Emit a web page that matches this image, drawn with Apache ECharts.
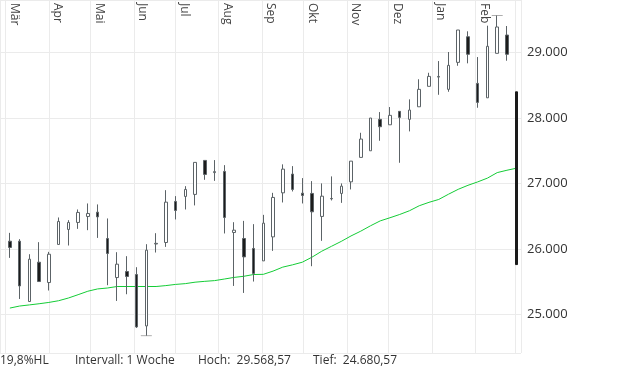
<!DOCTYPE html>
<html>
<head>
<meta charset="utf-8">
<script src="https://cdn.jsdelivr.net/npm/echarts@6/dist/echarts.min.js"></script>
<style>
html,body{margin:0;padding:0;background:#fff;}
#chart{width:620px;height:372px;}
</style>
</head>
<body>
<div id="chart"></div>
<script>
// Weekly candles (plotted at the Monday after each week)
const weekDates = [
'2019-03-04','2019-03-11','2019-03-18','2019-03-25','2019-04-01','2019-04-08','2019-04-15','2019-04-22','2019-04-29',
'2019-05-06','2019-05-13','2019-05-20','2019-05-27','2019-06-03','2019-06-10','2019-06-17','2019-06-24','2019-07-01',
'2019-07-08','2019-07-15','2019-07-22','2019-07-29','2019-08-05','2019-08-12','2019-08-19','2019-08-26','2019-09-02',
'2019-09-09','2019-09-16','2019-09-23','2019-09-30','2019-10-07','2019-10-14','2019-10-21','2019-10-28','2019-11-04',
'2019-11-11','2019-11-18','2019-11-25','2019-12-02','2019-12-09','2019-12-16','2019-12-23','2019-12-30','2020-01-06',
'2020-01-13','2020-01-20','2020-01-27','2020-02-03','2020-02-10','2020-02-17','2020-02-24','2020-03-02'
];
const openV = [
26123,26123,25202,25802,25492,26073,26302,26409,26500,
26566,26164,25568,25660,25614,24829,26080,26103,26730,
26806,26837,27356,27170,27188,26256,26164,26012,25822,
26189,26861,27147,26856,26852,26501,26775,26852,27029,
27402,27503,27983,27900,28105,27983,28175,28487,28628,
28441,28853,29244,28532,28312,28991,29270,28403
];
const closeV = [
26027,25440,25848,25507,25924,26424,26409,26562,26546,
26494,25935,25772,25584,24814,25986,26090,26719,26592,
26913,27326,27142,27185,26485,26291,25883,25630,26398,
26791,27223,26913,26821,26571,26810,26770,26963,27345,
27682,28003,27870,28044,28013,28125,28441,28639,28638,
28807,29347,28976,28242,29098,29393,28976,25766
];
const lowV = [
25868,25241,25200,25500,25370,26073,26057,26311,26291,
26173,25451,25211,25313,24798,24680.57,25950,26036,26455,
26607,26669,27060,27044,26241,25440,25333,25507,25822,
25975,26714,26882,26699,25741,26128,26745,26708,26913,
27402,27503,27656,27900,27320,27799,28175,28487,28358,
28404,28801,28838,28160,28312,28991,28878,25760
];
const highV = [
26250,26154,25924,26108,25960,26485,26444,26607,26699,
26684,26470,25955,25894,25726,26077,26245,26902,26811,
26963,27326,27356,27361,27284,26413,26433,26383,26525,
26861,27296,27269,27086,27040,27005,27112,27005,27345,
27778,28003,28094,28171,28105,28288,28595,28694,28873,
29011,29347,29327,28934,29413,29568.57,29408,28403
];
// Moving average (green line)
const maValues = [
25102,25133,25150,25168,25188,25214,25255,25306,25359,
25394,25408,25431,25431,25431,25431,25431,25445,25463,
25475,25497,25510,25521,25545,25570,25587,25614,25617,
25666,25727,25762,25802,25879,25970,26045,26120,26203,
26276,26358,26433,26481,26531,26588,26664,26716,26760,
26840,26915,26976,27028,27086,27170,27206,27238
];
const monthNames = ['Jan','Feb','Mär','Apr','Mai','Jun','Jul','Aug','Sep','Okt','Nov','Dez'];
const intervalText = 'Intervall: 1 Woche';

function deNum(v, dec) {
  const neg = v < 0; v = Math.abs(v);
  let s = v.toFixed(dec);
  let [ip, fp] = s.split('.');
  ip = ip.replace(/\B(?=(\d{3})+(?!\d))/g, '.');
  return (neg ? '-' : '') + ip + (fp ? ',' + fp : '');
}

const hi = Math.max(...highV);
const lo = Math.min(...lowV);
const iMax = highV.indexOf(hi);
const iMin = lowV.indexOf(lo);
const hlPct = (hi - lo) / lo * 100;

const lastIdx = weekDates.length - 1;
const lastTime = new Date(weekDates[lastIdx] + 'T00:00:00').getTime();
const candleData = weekDates.map((d, i) => {
  const v = [d, openV[i], closeV[i], lowV[i], highV[i]];
  if (i === lastIdx) {
    return { value: v, itemStyle: { color0: '#1a1a1a', borderColor0: '#1a1a1a' } };
  }
  return v;
});

const chart = echarts.init(document.getElementById('chart'), null, { renderer: 'canvas' });
const FONT = 'Open Sans';
chart.setOption({
  animation: false,
  textStyle: { fontFamily: FONT },
  grid: { left: 0, right: 99, top: 0, bottom: 19, containLabel: false, outerBoundsMode: 'none' },
  xAxis: {
    type: 'time',
    position: 'top',
    min: new Date(2019, 1, 24, 22).getTime(),
    max: new Date(2020, 2, 5, 2).getTime(),
    splitNumber: 13,
    maxInterval: 31 * 86400000,
    axisLine: { show: false },
    axisTick: { show: false },
    splitLine: { show: true, lineStyle: { color: '#ebebeb', width: 1 } },
    axisLabel: {
      inside: true,
      rotate: 90,
      margin: 3,
      fontSize: 12,
      fontFamily: FONT,
      color: '#444',
      verticalAlign: 'bottom',
      lineHeight: 18,
      hideOverlap: false,
      formatter: function (val) {
        const d = new Date(val);
        if (d.getDate() !== 1 || d.getHours() !== 0) return '';
        if (val > lastTime - 7 * 86400000) return '';
        return monthNames[d.getMonth()];
      }
    }
  },
  yAxis: {
    type: 'value',
    position: 'right',
    min: 24416,
    max: 29805,
    splitNumber: 5,
    axisLine: { show: false },
    axisTick: { show: false },
    splitLine: { show: true, lineStyle: { color: '#ebebeb', width: 1 } },
    axisLabel: {
      margin: 6,
      fontSize: 13,
      fontFamily: FONT,
      color: '#333',
      showMinLabel: false,
      showMaxLabel: false,
      formatter: function (v) { return deNum(Math.round(v), 0); }
    }
  },
  series: [
    {
      type: 'line',
      name: 'MA',
      data: weekDates.map((d, i) => [d, maValues[i]]),
      symbol: 'none',
      z: 1,
      lineStyle: { color: '#14cc36', width: 1 },
      silent: true
    },
    {
      type: 'candlestick',
      name: 'Kurs',
      encode: { x: 0, y: [1, 2, 3, 4] },
      barWidth: 3,
      z: 3,
      itemStyle: {
        color: '#ffffff',
        color0: '#1c1c1c',
        borderColor: '#5c6367',
        borderColor0: '#5c6367',
        borderWidth: 1
      },
      data: candleData
    },
    {
      type: 'scatter',
      name: 'Extreme',
      symbol: 'rect',
      symbolSize: [11, 1],
      z: 2,
      itemStyle: { color: '#9a9a9a' },
      data: [[weekDates[iMax], hi], [weekDates[iMin], lo]],
      silent: true
    }
  ],
  graphic: [
    { type: 'text', left: 0, top: 355, style: { text: deNum(hlPct, 1) + '%HL', font: '12px "Open Sans"', fill: '#333' } },
    { type: 'text', left: 75, top: 355, style: { text: intervalText, font: '12px "Open Sans"', fill: '#333' } },
    { type: 'text', left: 198, top: 355, style: { text: 'Hoch:  ' + deNum(hi, 2), font: '12px "Open Sans"', fill: '#333' } },
    { type: 'text', left: 313, top: 355, style: { text: 'Tief:  ' + deNum(lo, 2), font: '12px "Open Sans"', fill: '#333' } }
  ]
});
</script>
</body>
</html>
